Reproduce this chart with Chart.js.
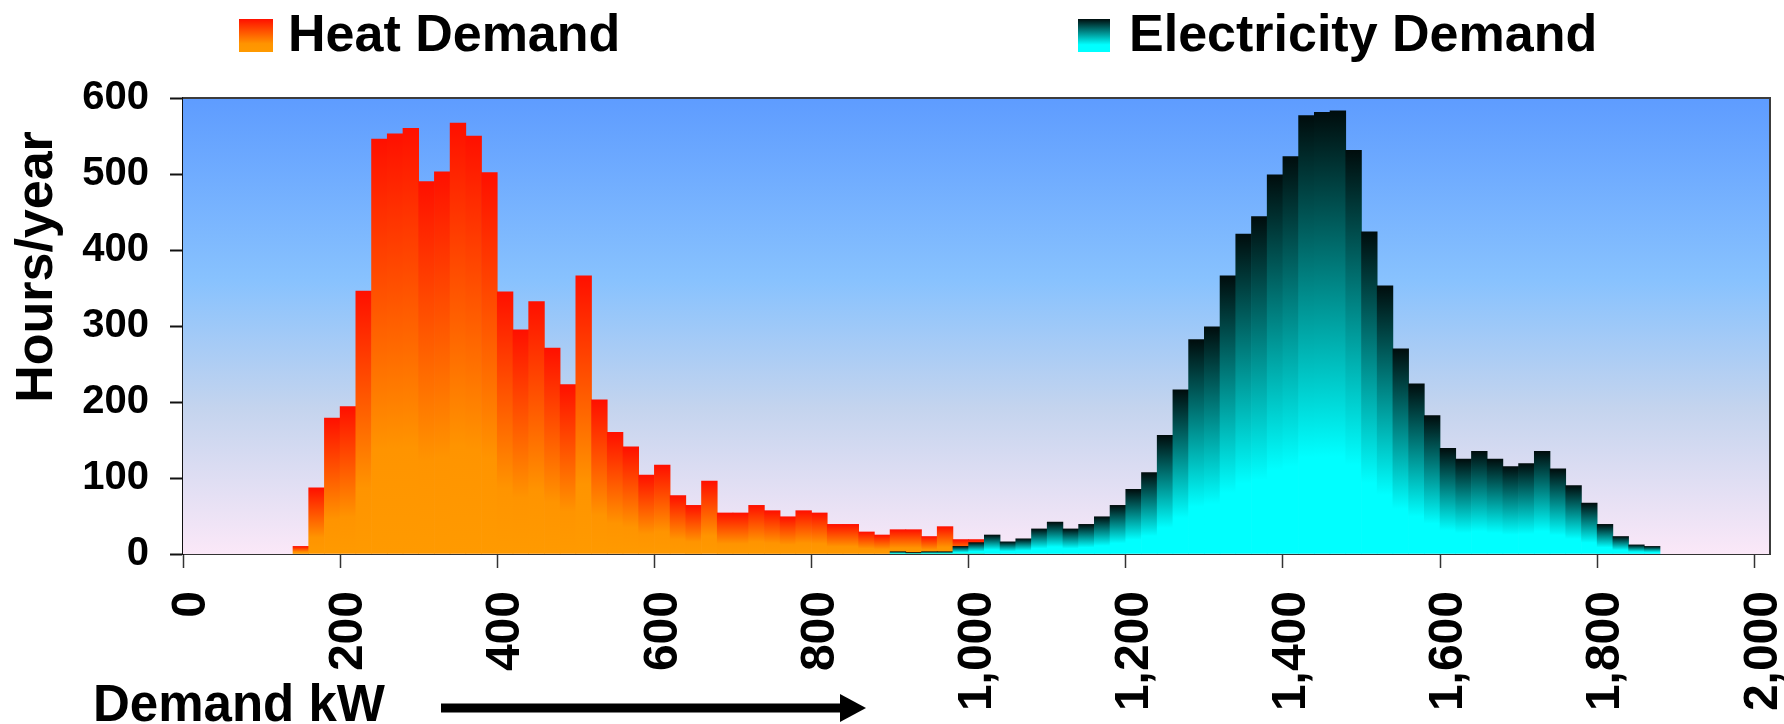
<!DOCTYPE html>
<html>
<head>
<meta charset="utf-8">
<script src="https://cdn.jsdelivr.net/npm/chart.js@4/dist/chart.umd.min.js"></script>
<style>
  html, body { margin: 0; padding: 0; background: #ffffff; }
  #wrap { width: 1784px; height: 724px; position: relative; }
</style>
</head>
<body>
<div id="wrap"><canvas id="demandChart" width="1784" height="724"></canvas></div>
<script>
// Bin centres (kW, 20 kW wide bins) and hours per year in each bin
const heatBins = [150, 170, 190, 210, 230, 250, 270, 290, 310, 330, 350, 370, 390, 410, 430, 450, 470, 490, 510, 530,
  550, 570, 590, 610, 630, 650, 670, 690, 710, 730, 750, 770, 790, 810, 830, 850, 870, 890, 910, 930, 950, 970, 990, 1010];
const heatHours = [10, 87, 179, 194, 346, 546, 553, 560, 490, 503, 567, 550, 502, 345, 295, 332, 271, 223, 366, 203,
  160, 141, 104, 117, 77, 64, 96, 54, 54, 64, 57, 49, 57, 54, 39, 39, 29, 25, 32, 32, 23, 36, 19, 19];

const elecBins = [910, 930, 950, 970, 990, 1010, 1030, 1050, 1070, 1090, 1110, 1130, 1150, 1170, 1190, 1210, 1230, 1250,
  1270, 1290, 1310, 1330, 1350, 1370, 1390, 1410, 1430, 1450, 1470, 1490, 1510, 1530, 1550, 1570, 1590, 1610, 1630,
  1650, 1670, 1690, 1710, 1730, 1750, 1770, 1790, 1810, 1830, 1850, 1870];
const elecHours = [3, 2, 3, 3, 10, 15, 25, 16, 20, 33, 42, 33, 39, 49, 64, 85, 107, 156, 216, 282, 299, 366, 421, 444,
  499, 523, 577, 581, 583, 531, 424, 353, 270, 224, 182, 139, 125, 135, 125, 115, 119, 135, 112, 90, 67, 39, 23, 12, 10];

const xTicks = [0, 200, 400, 600, 800, 1000, 1200, 1400, 1600, 1800, 2000];
const yTicks = [0, 100, 200, 300, 400, 500, 600];

const heatLabel = 'Heat Demand';
const elecLabel = 'Electricity Demand';
const xTitle = 'Demand kW';
const yTitle = 'Hours/year';

// Colour ramps, top of bar -> base of bar
const heatStops = [[0, '#ff1000'], [0.75, '#ff9400'], [1, '#ff9a00']];
const elecStops = [[0, '#000d0d'], [0.78, '#00ffff'], [1, '#00ffff']];
const plotStops = [[0, '#5e9cff'], [0.4, '#88c2fe'], [0.68, '#c4d4ee'], [1, '#fbe8f8']];

const FONT = '"Liberation Sans", Arial, Helvetica, sans-serif';

function rampFill(stops) {
  return (ctx) => {
    const chart = ctx.chart;
    const ys = chart.scales && chart.scales.y;
    if (!ys || !chart.chartArea || ctx.type !== 'data') return stops[stops.length - 1][1];
    const top = ys.getPixelForValue(ctx.parsed.y);
    const base = ys.getPixelForValue(0);
    if (!(base - top > 0.5)) return stops[0][1];
    const g = chart.ctx.createLinearGradient(0, top, 0, base);
    stops.forEach(([o, c]) => g.addColorStop(o, c));
    return g;
  };
}

// Sky-coloured plot background plus the frame on top / right
const plotFrame = {
  id: 'plotFrame',
  beforeDatasetsDraw(chart) {
    const { ctx, chartArea: a } = chart;
    const g = ctx.createLinearGradient(0, a.top, 0, a.bottom);
    plotStops.forEach(([o, c]) => g.addColorStop(o, c));
    ctx.save();
    ctx.fillStyle = g;
    ctx.fillRect(a.left, a.top, a.right - a.left, a.bottom - a.top);
    ctx.restore();
  },
  afterDatasetsDraw(chart) {
    const { ctx, chartArea: a } = chart;
    ctx.save();
    ctx.strokeStyle = '#3c3c3c';
    ctx.lineWidth = 2;
    ctx.beginPath();
    ctx.moveTo(a.left, a.top);
    ctx.lineTo(a.right, a.top);
    ctx.lineTo(a.right, a.bottom);
    ctx.stroke();
    ctx.restore();
  }
};

// Legend boxes, axis titles and the direction arrow
const annotations = {
  id: 'annotations',
  afterDraw(chart) {
    const ctx = chart.ctx;
    ctx.save();
    ctx.fillStyle = '#000';
    ctx.font = 'bold 52px ' + FONT;
    ctx.textBaseline = 'alphabetic';
    ctx.textAlign = 'left';

    const legendItems = [
      { box: [239, 19, 34, 33], text: chart.data.datasets[1].label, tx: 288, stops: heatStops },
      { box: [1078, 19, 32, 33], text: chart.data.datasets[0].label, tx: 1129, stops: elecStops }
    ];
    legendItems.forEach(item => {
      const [bx, by, bw, bh] = item.box;
      const g = ctx.createLinearGradient(0, by, 0, by + bh);
      item.stops.forEach(([o, c]) => g.addColorStop(o, c));
      ctx.fillStyle = g;
      ctx.fillRect(bx, by, bw, bh);
      ctx.fillStyle = '#000';
      ctx.fillText(item.text, item.tx, 51);
    });

    // y title
    ctx.save();
    ctx.translate(52, 267);
    ctx.rotate(-Math.PI / 2);
    ctx.textAlign = 'center';
    ctx.fillText(yTitle, 0, 0);
    ctx.restore();

    // x title and arrow
    ctx.font = 'bold 51px ' + FONT;
    ctx.fillText(xTitle, 93, 721);
    ctx.fillRect(441, 703.5, 402, 9);
    ctx.beginPath();
    ctx.moveTo(840, 694);
    ctx.lineTo(866, 708);
    ctx.lineTo(840, 722);
    ctx.closePath();
    ctx.fill();
    ctx.restore();
  }
};

const chart = new Chart(document.getElementById('demandChart'), {
  type: 'bar',
  data: {
    datasets: [
      {
        label: elecLabel,
        data: elecBins.map((b, i) => ({ x: b, y: elecHours[i] })),
        backgroundColor: rampFill(elecStops),
        order: 0
      },
      {
        label: heatLabel,
        data: heatBins.map((b, i) => ({ x: b, y: heatHours[i] })),
        backgroundColor: rampFill(heatStops),
        order: 1
      }
    ]
  },
  options: {
    responsive: false,
    devicePixelRatio: 1,
    animation: false,
    layout: { padding: { top: 98, right: 14, left: 0, bottom: 0 } },
    datasets: {
      bar: { barPercentage: 1, categoryPercentage: 1, grouped: false, borderWidth: 0 }
    },
    plugins: { legend: { display: false }, tooltip: { enabled: false } },
    scales: {
      x: {
        type: 'linear',
        min: 0,
        max: 2020,
        offset: false,
        afterBuildTicks: (axis) => { axis.ticks = xTicks.map(v => ({ value: v })); },
        afterFit: (axis) => { axis.height = 170; axis.paddingLeft = 0; axis.paddingRight = 0; },
        grid: { display: true, offset: false, drawOnChartArea: false, drawTicks: true, tickLength: 14, tickColor: '#333', tickWidth: 1.5 },
        border: { display: true, color: '#333', width: 2 },
        ticks: {
          autoSkip: false,
          minRotation: 90,
          maxRotation: 90,
          padding: 23,
          labelOffset: 9,
          color: '#000',
          font: { family: FONT, size: 48, weight: 'bold' },
          callback: (v) => v.toLocaleString('en-US')
        }
      },
      y: {
        min: 0,
        max: 600,
        afterBuildTicks: (axis) => { axis.ticks = yTicks.map(v => ({ value: v })); },
        afterFit: (axis) => { axis.width = 183; },
        grid: { display: true, drawOnChartArea: false, drawTicks: true, tickLength: 13, tickColor: '#111', tickWidth: 2 },
        border: { display: true, color: '#111', width: 2 },
        ticks: {
          padding: 21,
          color: '#000',
          font: { family: FONT, size: 40, weight: 'bold' }
        }
      }
    }
  },
  plugins: [plotFrame, annotations]
});
</script>
</body>
</html>
